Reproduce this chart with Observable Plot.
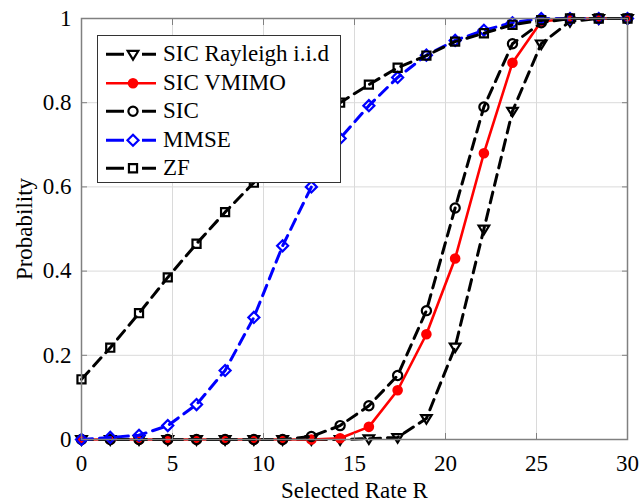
<!DOCTYPE html>
<html><head><meta charset="utf-8">
<script src="https://cdn.jsdelivr.net/npm/d3@7"></script>
<script src="https://cdn.jsdelivr.net/npm/@observablehq/plot@0.6"></script>
<style>
body{margin:0;background:#fff;}
#wrap{position:relative;width:639px;height:504px;}
#wrap svg text{font-family:"Liberation Serif","Times New Roman",Times,serif;}
#legend{position:absolute;left:97px;top:35px;width:244px;height:148px;box-sizing:border-box;border:1.4px solid #333;background:#fff;font-family:"Liberation Serif","Times New Roman",Times,serif;font-size:23px;color:#000;}
#legend .row{position:absolute;left:0;height:28.5px;display:flex;align-items:center;white-space:nowrap;}
#legend svg{display:block;}
</style></head><body><div id="wrap"></div>
<script>
// ---- data ----
const rate = [0, 1.58, 3.16, 4.74, 6.32, 7.89, 9.47, 11.05, 12.63, 14.21, 15.79, 17.37, 18.95, 20.53, 22.11, 23.68, 25.26, 26.84, 28.42, 30];
const sicRayleigh = [0, 0, 0, 0, 0, 0, 0, 0, 0, 0, 0.002, 0.005, 0.05, 0.22, 0.5, 0.78, 0.94, 0.993, 1, 1];
const sicVmimo = [0, 0, 0, 0, 0, 0, 0, 0, 0, 0.003, 0.03, 0.117, 0.25, 0.43, 0.68, 0.895, 0.993, 1, 1, 1];
const sic = [0, 0, 0, 0, 0, 0, 0, 0, 0.007, 0.033, 0.08, 0.152, 0.306, 0.55, 0.79, 0.94, 0.99, 1, 1, 1];
const mmse = [0, 0.005, 0.01, 0.033, 0.083, 0.164, 0.29, 0.46, 0.6, 0.715, 0.793, 0.86, 0.913, 0.948, 0.972, 0.99, 1, 1, 1, 1];
const zf = [0.143, 0.218, 0.3, 0.385, 0.465, 0.54, 0.61, 0.675, 0.74, 0.8, 0.843, 0.883, 0.912, 0.945, 0.965, 0.985, 0.996, 1, 1, 1];
const seriesNames = ["SIC Rayleigh i.i.d", "SIC VMIMO", "SIC", "MMSE", "ZF"];
const seriesColors = ["#000000", "#ff0000", "#000000", "#0000ff", "#000000"];
const seriesDashed = [true, false, true, true, true];
const seriesMarkers = ["triangleDown", "dot", "circle", "diamond", "square"];
const xTicks = [0, 5, 10, 15, 20, 25, 30];
const yTicks = [0, 0.2, 0.4, 0.6, 0.8, 1];
const xLabel = "Selected Rate R";
const yLabel = "Probability";

// ---- symbols ----
const symbols = {
  triangleDown: {draw(c, size) { const r = Math.sqrt(size / Math.PI) * 1.15; c.moveTo(-r, -r * 0.62); c.lineTo(r, -r * 0.62); c.lineTo(0, r); c.closePath(); }},
  dot: {draw(c, size) { const r = Math.sqrt(size / Math.PI); c.moveTo(r, 0); c.arc(0, 0, r, 0, 2 * Math.PI); c.closePath(); }},
  circle: {draw(c, size) { const r = Math.sqrt(size / Math.PI); c.moveTo(r, 0); c.arc(0, 0, r, 0, 2 * Math.PI); c.closePath(); }},
  diamond: {draw(c, size) { const r = Math.sqrt(size / Math.PI) * 1.2; c.moveTo(0, -r); c.lineTo(r, 0); c.lineTo(0, r); c.lineTo(-r, 0); c.closePath(); }},
  square: {draw(c, size) { const s = Math.sqrt(size / Math.PI) * 0.88; c.rect(-s, -s, 2 * s, 2 * s); }}
};

const seriesValues = [sicRayleigh, sicVmimo, sic, mmse, zf];
const rows = seriesNames.map((name, i) => seriesValues[i].map((p, j) => ({series: name, rate: rate[j], p})));

const marks = [
  Plot.gridX(xTicks, {stroke: "#dadada", strokeOpacity: 1, strokeWidth: 1}),
  Plot.gridY(yTicks, {stroke: "#dadada", strokeOpacity: 1, strokeWidth: 1}),
];
seriesNames.forEach((name, i) => {
  const filled = seriesMarkers[i] === "dot";
  marks.push(Plot.line(rows[i], {x: "rate", y: "p", stroke: seriesColors[i], strokeWidth: filled ? 2.6 : 3,
    strokeDasharray: seriesDashed[i] ? "11,7" : null}));
  marks.push(Plot.dot(rows[i], {x: "rate", y: "p", symbol: () => symbols[seriesMarkers[i]], r: filled ? 4.2 : 4.6,
    stroke: seriesColors[i], strokeWidth: 2.2, fill: filled ? seriesColors[i] : "none"}));
});
marks.push(
  Plot.frame({stroke: "#808080", strokeWidth: 1.5}),
  Plot.axisX({ticks: xTicks, tickSize: 0, tickPadding: 15, label: xLabel, labelArrow: "none", labelAnchor: "center", labelOffset: 58, fontSize: 23}),
  Plot.axisY({ticks: yTicks, tickSize: 0, tickPadding: 10, label: yLabel, labelArrow: "none", labelAnchor: "center", labelOffset: 66, fontSize: 23, tickFormat: d => String(d)}),
  Plot.axisX({ticks: xTicks, tickSize: -6, tickFormat: () => "", label: null, stroke: "#808080"}),
  Plot.axisX({ticks: xTicks, anchor: "top", tickSize: -6, tickFormat: () => "", label: null, stroke: "#808080"}),
  Plot.axisY({ticks: yTicks, tickSize: -6, tickFormat: () => "", label: null, stroke: "#808080"}),
  Plot.axisY({ticks: yTicks, anchor: "right", tickSize: -6, tickFormat: () => "", label: null, stroke: "#808080"})
);

const chart = Plot.plot({
  width: 639, height: 504,
  marginLeft: 81, marginRight: 12, marginTop: 18, marginBottom: 65,
  x: {domain: [0, 30], label: xLabel},
  y: {domain: [0, 1], label: yLabel},
  style: {fontFamily: "'Liberation Serif', 'Times New Roman', Times, serif", fontSize: "23px", color: "#000", background: "#fff"},
  marks
});
const wrap = document.getElementById("wrap");
wrap.appendChild(chart);
// strip any automatic arrow from axis labels
d3.select(chart).selectAll("text").each(function() {
  const t = this.textContent;
  if (/[→↑←↓]/.test(t)) this.textContent = t.replace(/\s*[→↑←↓]\s*/g, "").trim();
});

// ---- legend ----
const legend = document.createElement("div");
legend.id = "legend";
wrap.appendChild(legend);
seriesNames.forEach((name, i) => {
  const row = document.createElement("div");
  row.className = "row";
  row.style.top = (4 + i * 28.5) + "px";
  legend.appendChild(row);
  const svg = d3.select(row).append("svg").attr("width", 65).attr("height", 28.5);
  const cy = 14.25;
  const filled = seriesMarkers[i] === "dot";
  if (seriesDashed[i]) {
    svg.append("line").attr("x1", 8).attr("x2", 26).attr("y1", cy).attr("y2", cy).attr("stroke", seriesColors[i]).attr("stroke-width", 3);
    svg.append("line").attr("x1", 44).attr("x2", 58).attr("y1", cy).attr("y2", cy).attr("stroke", seriesColors[i]).attr("stroke-width", 3);
  } else {
    svg.append("line").attr("x1", 8).attr("x2", 58).attr("y1", cy).attr("y2", cy).attr("stroke", seriesColors[i]).attr("stroke-width", 2.6);
  }
  const r = filled ? 4.2 : 4.6;
  svg.append("path").attr("transform", `translate(35,${cy})`)
    .attr("d", d3.symbol(symbols[seriesMarkers[i]], Math.PI * r * r)())
    .attr("stroke", seriesColors[i]).attr("stroke-width", 2.2)
    .attr("fill", filled ? seriesColors[i] : "none");
  const t = document.createElement("span");
  t.textContent = name;
  row.appendChild(t);
});
</script>
</body></html>
